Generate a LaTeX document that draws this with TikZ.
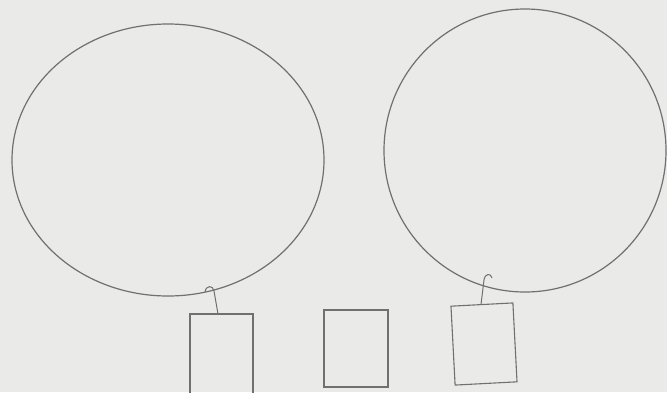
\documentclass[tikz,border=0pt]{standalone}
\usetikzlibrary{shapes.geometric}
\definecolor{paper}{RGB}{234,234,233}
\definecolor{ink}{RGB}{112,112,112}
\tikzset{
  ring/.style={draw=ink, line width=1.2pt, ellipse, inner sep=0pt},
  card/.style={draw=ink, line width=1.1pt, rectangle, inner sep=0pt},
  string/.style={draw=ink, line width=1pt}
}
\begin{document}
\begin{tikzpicture}[x=1pt,y=-1pt]
\fill[paper] (0,0) rectangle (667,392);
\useasboundingbox (0,0) rectangle (667,392);
% balloons
\node[ring, minimum width=312pt, minimum height=272pt] (e1) at (168,160) {};
\node[ring, minimum width=282pt, minimum height=283pt] (e2) at (525,150.5) {};
% cards
\node[card, minimum width=63pt, minimum height=86pt] (b1) at (221.5,357) {};
\node[card, minimum width=64pt, minimum height=77pt] (b2) at (356,348.5) {};
\node[card, minimum width=62pt, minimum height=79pt, rotate=3] (b3) at (484,344) {};
% strings
\coordinate (h1) at (205,292);
\coordinate (t1) at (218,314);
\draw[string] (h1) .. controls (206,285) and (213,285) .. (214,291) -- (t1);
\coordinate (h2) at (484,280);
\coordinate (t2) at (481,304.5);
\draw[string] (h2) .. controls (485,273) and (491,273) .. (492,278);
\draw[string] (h2) -- (t2);
\end{tikzpicture}
\end{document}
